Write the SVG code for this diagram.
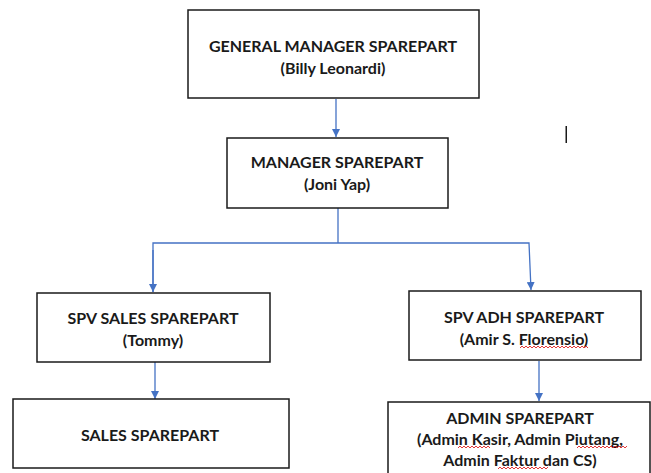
<svg xmlns="http://www.w3.org/2000/svg" width="651" height="473" viewBox="0 0 651 473">
<defs>
<marker id="ah" viewBox="0 0 10 10" refX="10" refY="5" markerWidth="8" markerHeight="8" markerUnits="userSpaceOnUse" orient="auto">
<path d="M0,0 L10,5 L0,10 z" fill="#4472C4"/>
</marker>
<style>
.box{fill:#fff;stroke:#1a1a1a;stroke-width:1.5}
.t{font-family:Lato,"Open Sans","Liberation Sans",sans-serif;font-weight:bold;font-size:16px;fill:#1a1a1a;text-anchor:middle}
.c{fill:none;stroke:#4472C4;stroke-width:1.3}
.sp{fill:none;stroke:#e02020;stroke-width:0.9}
</style>
</defs>
<rect width="651" height="473" fill="#fff"/>
<g id="connectors">
<line class="c" x1="336" y1="99" x2="336" y2="137" marker-end="url(#ah)"/>
<polyline class="c" points="338,208 338,243"/>
<polyline class="c" points="153,292 153,243 529,243 531,290" marker-end="url(#ah)"/>
<line class="c" x1="153" y1="250" x2="153" y2="292" marker-end="url(#ah)"/>
<line class="c" x1="155" y1="362" x2="155" y2="399" marker-end="url(#ah)"/>
<line class="c" x1="539" y1="361" x2="539" y2="401" marker-end="url(#ah)"/>
</g>
<g id="gm">
<rect class="box" x="188" y="10" width="291" height="88"/>
<text class="t" x="333" y="52">GENERAL MANAGER SPAREPART</text>
<text class="t" x="333" y="74">(Billy Leonardi)</text>
</g>
<g id="manager">
<rect class="box" x="227" y="138" width="221" height="70"/>
<text class="t" x="337" y="168">MANAGER SPAREPART</text>
<text class="t" x="337" y="190">(Joni Yap)</text>
</g>
<g id="spv-sales">
<rect class="box" x="37" y="293" width="233" height="69"/>
<text class="t" x="153" y="324">SPV SALES SPAREPART</text>
<text class="t" x="153" y="346">(Tommy)</text>
</g>
<g id="spv-adh">
<rect class="box" x="409" y="291" width="232" height="69"/>
<text class="t" x="524" y="323">SPV ADH SPAREPART</text>
<text class="t" x="524" y="345">(Amir S. Florensio)</text>
<path class="sp" d="M520,348 l2,-2 l2,2 l2,-2 l2,2 l2,-2 l2,2 l2,-2 l2,2 l2,-2 l2,2 l2,-2 l2,2 l2,-2 l2,2 l2,-2 l2,2 l2,-2 l2,2 l2,-2 l2,2 l2,-2 l2,2 l2,-2 l2,2 l2,-2 l2,2 l2,-2 l2,2 l2,-2 l2,2 l2,-2 l2,2 l2,-2 l2,2"/>
</g>
<g id="sales">
<rect class="box" x="13" y="399" width="276" height="69"/>
<text class="t" x="150" y="441">SALES SPAREPART</text>
</g>
<g id="admin">
<rect class="box" x="388" y="402" width="262" height="76"/>
<text class="t" x="520" y="424">ADMIN SPAREPART</text>
<text class="t" x="520" y="445">(Admin Kasir, Admin Piutang,</text>
<text class="t" x="520" y="466">Admin Faktur dan CS)</text>
<path class="sp" d="M458,448 l2,-2 l2,2 l2,-2 l2,2 l2,-2 l2,2 l2,-2 l2,2 l2,-2 l2,2 l2,-2 l2,2 l2,-2 l2,2 l2,-2 l2,2"/>
<path class="sp" d="M577,448 l2,-2 l2,2 l2,-2 l2,2 l2,-2 l2,2 l2,-2 l2,2 l2,-2 l2,2 l2,-2 l2,2 l2,-2 l2,2 l2,-2 l2,2 l2,-2 l2,2 l2,-2 l2,2 l2,-2 l2,2 l2,-2 l2,2 l2,-2"/>
<path class="sp" d="M498,469 l2,-2 l2,2 l2,-2 l2,2 l2,-2 l2,2 l2,-2 l2,2 l2,-2 l2,2 l2,-2 l2,2 l2,-2 l2,2 l2,-2 l2,2 l2,-2 l2,2 l2,-2 l2,2 l2,-2 l2,2 l2,-2 l2,2 l2,-2"/>
</g>
<rect x="565.5" y="126" width="1.5" height="17" fill="#1a1a1a"/>
</svg>
